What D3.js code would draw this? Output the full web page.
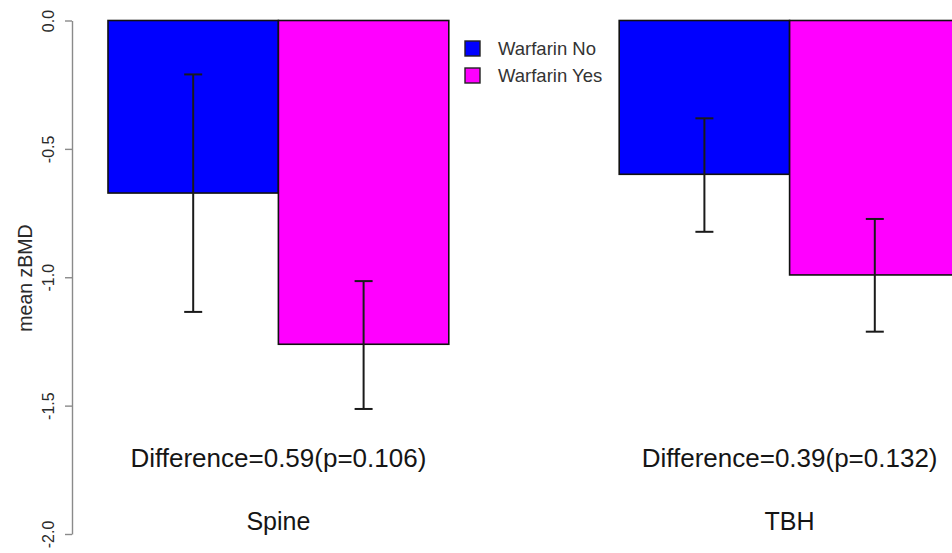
<!DOCTYPE html>
<html>
<head>
<meta charset="utf-8">
<script src="https://cdn.jsdelivr.net/npm/d3@7"></script>
<style>
  html, body { margin: 0; padding: 0; background: #fff; }
  svg { display: block; font-family: "Liberation Sans", Arial, sans-serif; }
</style>
</head>
<body>
<svg id="chart" width="952" height="553"></svg>
<script>
// ---- data ----
const categories = ["Spine", "TBH"];
const seriesNames = ["Warfarin No", "Warfarin Yes"];
const seriesColors = ["#0000FF", "#FF00FF"];
const meanNo  = [-0.672, -0.599];
const meanYes = [-1.261, -0.991];
const errHighNo  = [-0.210, -0.381];
const errLowNo   = [-1.135, -0.823];
const errHighYes = [-1.015, -0.773];
const errLowYes  = [-1.513, -1.212];
const diffLabels = ["Difference=0.59(p=0.106)", "Difference=0.39(p=0.132)"];
const yTicks = [0, -0.5, -1.0, -1.5, -2.0];
const yLabel = "mean zBMD";

// ---- layout ----
const svg = d3.select("#chart");
// barplot units: group g occupies [1+3g, 3+3g], bar width 1
const x = d3.scaleLinear().domain([1, 6]).range([108, 960]);
const y = d3.scaleLinear().domain([0, -2]).range([20.5, 534]);

const bars = [];
categories.forEach((c, i) => {
  bars.push({cat: c, s: 0, start: 1 + 3 * i, v: meanNo[i], lo: errLowNo[i], hi: errHighNo[i]});
  bars.push({cat: c, s: 1, start: 2 + 3 * i, v: meanYes[i], lo: errLowYes[i], hi: errHighYes[i]});
});

// bars
svg.append("g").selectAll("rect").data(bars).join("rect")
  .attr("x", d => x(d.start))
  .attr("y", y(0))
  .attr("width", d => x(d.start + 1) - x(d.start))
  .attr("height", d => y(d.v) - y(0))
  .attr("fill", d => seriesColors[d.s])
  .attr("stroke", "#111")
  .attr("stroke-width", 1.6);

// error bars
const cap = 9;
const eb = svg.append("g").attr("stroke", "#1a1a1a").attr("stroke-width", 2).attr("fill", "none");
bars.forEach(d => {
  const cx = x(d.start + 0.5);
  eb.append("line").attr("x1", cx).attr("x2", cx).attr("y1", y(d.hi)).attr("y2", y(d.lo));
  eb.append("line").attr("x1", cx - cap).attr("x2", cx + cap).attr("y1", y(d.hi)).attr("y2", y(d.hi));
  eb.append("line").attr("x1", cx - cap).attr("x2", cx + cap).attr("y1", y(d.lo)).attr("y2", y(d.lo));
});

// y axis
const axis = d3.axisLeft(y).tickValues(yTicks).tickFormat(d => d.toFixed(1))
  .tickSize(7).tickSizeOuter(0);
const gA = svg.append("g").attr("transform", "translate(72,0)").call(axis);
gA.select(".domain").attr("stroke", "#8a8a8a").attr("stroke-width", 1.4);
gA.selectAll(".tick line").attr("stroke", "#8a8a8a").attr("stroke-width", 1.4);
gA.selectAll(".tick text")
  .attr("transform", "rotate(-90)")
  .attr("x", 0).attr("y", -24)
  .attr("dy", "0.35em")
  .attr("text-anchor", "middle")
  .attr("fill", "#2a2a2a")
  .style("font-size", "16px")
  .style("font-family", "'Liberation Sans', Arial, sans-serif");

// y label (centred on the plot region)
svg.append("text")
  .attr("transform", `translate(25,${278}) rotate(-90)`)
  .attr("dy", "0.35em")
  .attr("text-anchor", "middle")
  .attr("fill", "#2a2a2a")
  .style("font-size", "19.5px")
  .text(yLabel);

// difference labels and category labels
categories.forEach((c, i) => {
  const cx = x(2 + 3 * i);
  svg.append("text").attr("x", cx).attr("y", 467).attr("text-anchor", "middle")
    .attr("fill", "#151515").style("font-size", "26px").text(diffLabels[i]);
  svg.append("text").attr("x", cx).attr("y", 530).attr("text-anchor", "middle")
    .attr("fill", "#151515").style("font-size", "25px").text(c);
});

// legend
const lg = svg.append("g");
seriesNames.forEach((s, i) => {
  const yy = 41 + i * 27;
  lg.append("rect").attr("x", 465).attr("y", yy).attr("width", 15).attr("height", 15)
    .attr("fill", seriesColors[i]).attr("stroke", "#222").attr("stroke-width", 1.4);
  lg.append("text").attr("x", 498).attr("y", yy + 14).attr("fill", "#333")
    .style("font-size", "18.5px").text(s);
});
</script>
</body>
</html>
